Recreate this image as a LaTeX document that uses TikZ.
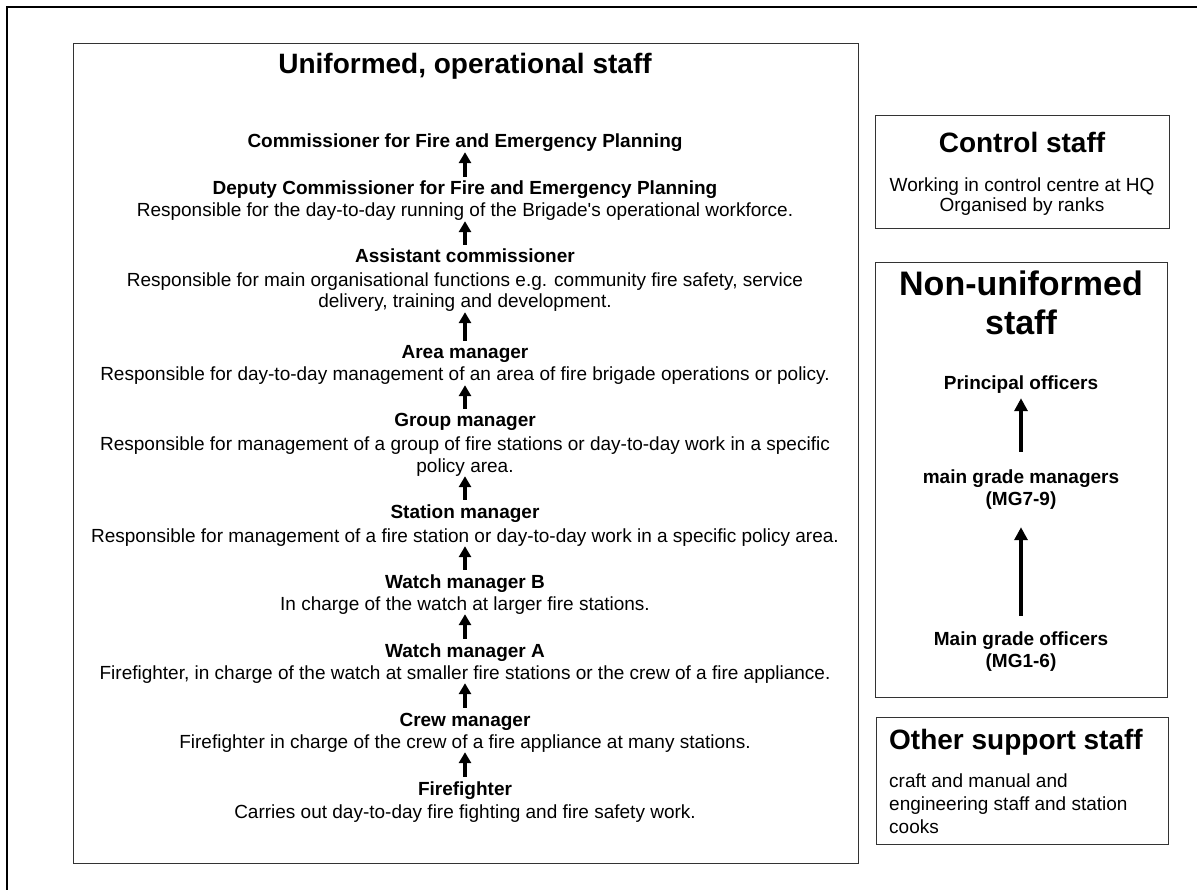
\documentclass[tikz,border=0pt]{standalone}
\usepackage{fontspec}
\setmainfont{Liberation Sans}
\newfontfamily\plainapos{Liberation Sans}
\usetikzlibrary{arrows.meta}
\tikzset{
  frame/.style={draw=black!80, line width=1.3pt, minimum width=#1, inner sep=0pt, anchor=north west},
  ln/.style={inner sep=0pt, text height=14pt, text depth=4pt, font=\fontsize{19}{22}\selectfont},
  hd/.style={ln, font=\bfseries\fontsize{19}{22}\selectfont},
  big/.style={inner sep=0pt, font=\bfseries\fontsize{28}{32}\selectfont},
  huge/.style={inner sep=0pt, font=\bfseries\fontsize{34}{39}\selectfont},
  arr/.style={-{Triangle[width=12pt,length=11pt]}, line width=4pt, shorten <=4pt},
  rarr/.style={-{Triangle[width=13pt,length=13pt]}, line width=4.5pt}
}
\begin{document}
\begin{tikzpicture}[x=1pt,y=-1pt]
\useasboundingbox (0,0) rectangle (1197,890);
\begin{scope}
\clip (0,0) rectangle (1197,890);
\draw[line width=2pt] (1210,7.5) -- (7,7.5) -- (7,900);
\end{scope}
% boxes
\node[frame=785pt, minimum height=820pt] (mainbox) at (73,43) {};
\node[frame=294pt, minimum height=113pt] (ctlbox) at (875,115) {};
\node[frame=292pt, minimum height=435pt] (nubox) at (875,262) {};
\node[frame=292pt, minimum height=127pt] (othbox) at (876,717) {};
% main column
\node[big] (title) at (465,66) {Uniformed, operational staff};
\node[hd] (com) at (465,143) {Commissioner for Fire and Emergency Planning};
\node[hd] (dep) at (465,190) {Deputy Commissioner for Fire and Emergency Planning};
\node[ln] (depd) at (465,212) {Responsible for the day-to-day running of the Brigade{\plainapos '}s operational workforce.};
\node[hd] (ac) at (465,258) {Assistant commissioner};
\node[ln] (acd1) at (465,282) {Responsible for main organisational functions e.g. community fire safety, service};
\node[ln] (acd2) at (465,303) {delivery, training and development.};
\node[hd] (am) at (465,354) {Area manager};
\node[ln] (amd) at (465,376) {Responsible for day-to-day management of an area of fire brigade operations or policy.};
\node[hd] (gm) at (465,422) {Group manager};
\node[ln] (gmd1) at (465,445) {Responsible for management of a group of fire stations or day-to-day work in a specific};
\node[ln] (gmd2) at (465,467) {policy area.};
\node[hd] (sm) at (465,513) {Station manager};
\node[ln] (smd) at (465,537) {Responsible for management of a fire station or day-to-day work in a specific policy area.};
\node[hd] (wb) at (465,583) {Watch manager B};
\node[ln] (wbd) at (465,605) {In charge of the watch at larger fire stations.};
\node[hd] (wa) at (465,652) {Watch manager A};
\node[ln] (wad) at (465,674) {Firefighter, in charge of the watch at smaller fire stations or the crew of a fire appliance.};
\node[hd] (cm) at (465,721) {Crew manager};
\node[ln] (cmd) at (465,743) {Firefighter in charge of the crew of a fire appliance at many stations.};
\node[hd] (ff) at (465,790) {Firefighter};
\node[ln] (ffd) at (465,813) {Carries out day-to-day fire fighting and fire safety work.};
\draw[arr] (dep.north) -- (com.south);
\draw[arr] (ac.north) -- (depd.south);
\draw[arr] (am.north) -- (acd2.south);
\draw[arr] (gm.north) -- (amd.south);
\draw[arr] (sm.north) -- (gmd2.south);
\draw[arr] (wb.north) -- (smd.south);
\draw[arr] (wa.north) -- (wbd.south);
\draw[arr] (cm.north) -- (wad.south);
\draw[arr] (ff.north) -- (cmd.south);
% control staff
\node[big] (cs) at (1022,142) {Control staff};
\node[ln] (cs1) at (1022,187) {Working in control centre at HQ};
\node[ln] (cs2) at (1022,207) {Organised by ranks};
% non-uniformed
\node[huge] (nu1) at (1021,283) {Non-uniformed};
\node[huge] (nu2) at (1021,322) {staff};
\node[hd] (po) at (1021,385) {Principal officers};
\node[hd] (mgm1) at (1021,478) {main grade managers};
\node[hd] (mgm2) at (1021,500) {(MG7-9)};
\node[hd] (mgo1) at (1021,640) {Main grade officers};
\node[hd] (mgo2) at (1021,662) {(MG1-6)};
\draw[rarr, shorten <=17pt, shorten >=4pt] (mgm1.north) -- (po.south);
\draw[rarr, shorten <=15pt, shorten >=18pt] (mgo1.north) -- (mgm2.south);
% other support staff
\node[big, anchor=west] (os) at (889,742) {Other support staff};
\node[ln, anchor=west] (os1) at (889,782) {craft and manual and};
\node[ln, anchor=west] (os2) at (889,805) {engineering staff and station};
\node[ln, anchor=west] (os3) at (889,828) {cooks};
\end{tikzpicture}
\end{document}
